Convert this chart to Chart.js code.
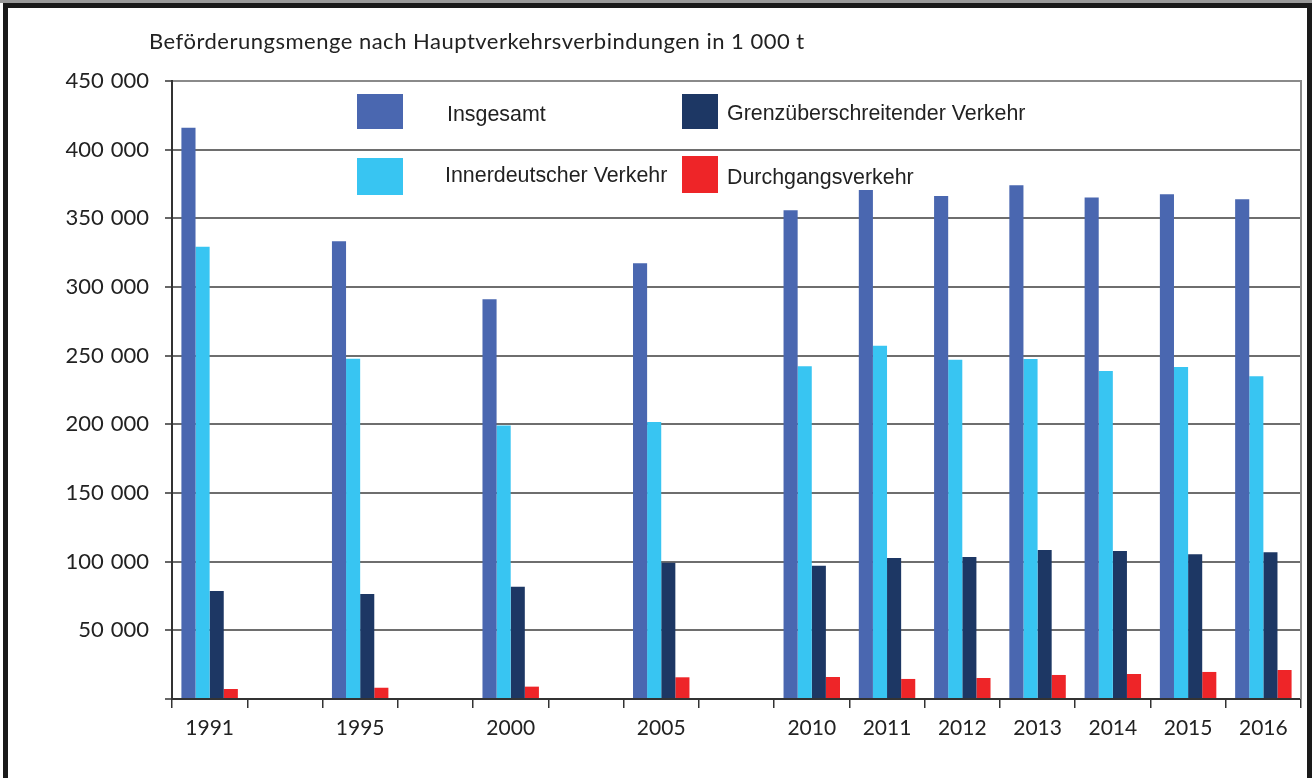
<!DOCTYPE html>
<html><head><meta charset="utf-8">
<script src="https://cdn.jsdelivr.net/npm/chart.js@4.4.1/dist/chart.umd.min.js"></script>
<style>html,body{margin:0;padding:0;background:#fff;}canvas{display:block}</style>
</head><body><canvas id="c" width="1312" height="778"></canvas>
<script>
const categories = ['1991','','1995','','2000','','2005','','2010','2011','2012','2013','2014','2015','2016'];
const insgesamt    = [415900, null, 333300, null, 291000, null, 317300, null, 355900, 370700, 366300, 374100, 365100, 367500, 363900];
const innerdeutsch = [329300, null, 247800, null, 199200, null, 201700, null, 242300, 257300, 247100, 247600, 238900, 241800, 235000];
const grenz        = [ 78700, null,  76500, null,  81800, null,  99300, null,  97100, 102700, 103400, 108500, 107800, 105400, 106800];
const durchgang    = [  7300, null,   8200, null,   9000, null,  15800, null,  16000,  14600,  15300,  17500,  18200,  19700,  21100];
const seriesNames  = ['Insgesamt', 'Innerdeutscher Verkehr', 'Grenzüberschreitender Verkehr', 'Durchgangsverkehr'];
const yTicks       = [0, 50000, 100000, 150000, 200000, 250000, 300000, 350000, 400000, 450000];
const titleText    = 'Beförderungsmenge nach Hauptverkehrsverbindungen in 1 000 t';

const colors = ['#4a67b0', '#38c5f2', '#1d3764', '#ee2528'];
const fmt = v => String(v).replace(/\B(?=(\d{3})+(?!\d))/g, '\u00a0\u200a');

const framePlugin = {
  id: 'frame',
  beforeDraw(chart) {
    const c = chart.ctx, W = chart.width, H = chart.height;
    c.save();
    c.fillStyle = '#fff'; c.fillRect(0, 0, W, H);
    c.fillStyle = '#9a9a9a'; c.fillRect(0, 0, W, 3);
    c.fillStyle = '#1a1a1a';
    c.fillRect(3, 3, W - 3, 5);
    c.fillRect(3, 3, 5, H - 3);
    c.fillRect(W - 5, 3, 5, H - 3);
    c.fillStyle = '#222';
    c.font = '22px Lato';
    try { c.letterSpacing = '0.5px'; } catch (e) {}
    c.textBaseline = 'middle';
    c.textAlign = 'left';
    c.fillText(titleText, 149, 42);
    c.restore();
  },
  afterDraw(chart) {
    const c = chart.ctx, a = chart.chartArea;
    c.save();
    c.strokeStyle = '#8a8a8a'; c.lineWidth = 2;
    c.beginPath(); c.moveTo(a.right, a.top - 1); c.lineTo(a.right, a.bottom); c.stroke();
    // legend
    const pos = chart.options.plugins.boxLegend.items;
    c.font = '21.4px "Liberation Sans"';
    c.textBaseline = 'middle'; c.textAlign = 'left';
    chart.data.datasets.forEach((ds, i) => {
      const p = pos[i];
      c.fillStyle = ds.backgroundColor;
      c.fillRect(p.bx, p.by, p.bw, p.bh);
      c.fillStyle = '#222';
      c.fillText(ds.label, p.tx, p.ty);
    });
    c.restore();
  }
};

new Chart(document.getElementById('c'), {
  type: 'bar',
  data: {
    labels: categories,
    datasets: [insgesamt, innerdeutsch, grenz, durchgang].map((d, i) => ({
      label: seriesNames[i], data: d, backgroundColor: colors[i], borderWidth: 0,
      categoryPercentage: 0.75, barPercentage: 1.0
    }))
  },
  options: {
    responsive: false, animation: false, devicePixelRatio: 1,
    layout: { padding: { top: 81, right: 11, bottom: 29, left: 0 } },
    plugins: {
      legend: { display: false }, title: { display: false }, tooltip: { enabled: false },
      boxLegend: { items: [
        { bx: 357, by: 94,  bw: 46, bh: 35, tx: 447, ty: 115 },
        { bx: 357, by: 158, bw: 46, bh: 37, tx: 445, ty: 176 },
        { bx: 682, by: 94,  bw: 36, bh: 35, tx: 727, ty: 114 },
        { bx: 682, by: 156, bw: 36, bh: 37, tx: 727, ty: 178 }
      ] }
    },
    scales: {
      x: {
        grid: { display: true, drawOnChartArea: false, drawTicks: true, tickLength: 9, color: '#333', lineWidth: 1.5, offset: true },
        border: { display: true, color: '#333', width: 2 },
        ticks: { font: { family: 'Lato', size: 21 }, color: '#222', padding: 8, maxRotation: 0, autoSkip: false },
        afterFit(s) { s.height = 50; }
      },
      y: {
        min: 0, max: 450000,
        afterBuildTicks(s) { s.ticks = yTicks.map(v => ({ value: v })); },
        grid: {
          color: ctx => (ctx.tick && ctx.tick.value === 0) ? 'rgba(0,0,0,0)' : (ctx.tick && ctx.tick.value === 450000 ? '#8a8a8a' : '#6e6e6e'),
          lineWidth: 2, drawTicks: true, tickLength: 7, tickColor: '#333', tickWidth: 1.5
        },
        border: { display: true, color: '#333', width: 2 },
        ticks: { callback: v => v === 0 ? '' : fmt(v), font: { family: 'Lato', size: 22 }, color: '#222', padding: 16 },
        afterFit(s) { s.width = 172; }
      }
    }
  },
  plugins: [framePlugin]
});
</script>
</body></html>
